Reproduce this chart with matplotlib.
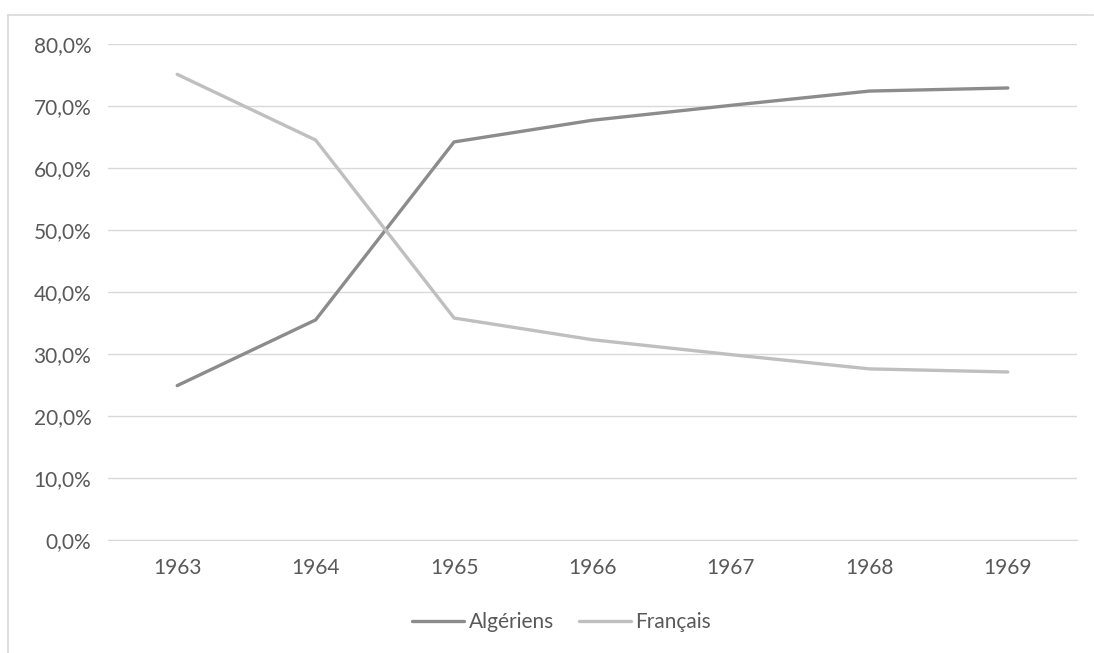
import matplotlib.pyplot as plt
from matplotlib.lines import Line2D
from matplotlib.ticker import FuncFormatter

plt.rcParams['font.family'] = ['Lato', 'DejaVu Sans']

years = ["1963", "1964", "1965", "1966", "1967", "1968", "1969"]
algeriens = [24.9, 35.5, 64.2, 67.7, 70.1, 72.4, 72.9]
francais = [75.1, 64.5, 35.8, 32.3, 29.9, 27.6, 27.1]

text_color = "#595959"

fig = plt.figure(figsize=(10.94, 6.53), dpi=100)
ax = fig.add_axes([0.0987, 0.173, 0.8858, 0.7597])

x = range(len(years))
ax.plot(x, algeriens, color="#8c8c8c", linewidth=2.4, label="Algériens", solid_capstyle="round")
ax.plot(x, francais, color="#bfbfbf", linewidth=2.4, label="Français", solid_capstyle="round")

ax.set_xlim(-0.5, len(years) - 0.5)
ax.set_ylim(0, 80)
ax.set_yticks(range(0, 81, 10))
ax.yaxis.set_major_formatter(FuncFormatter(lambda v, p: f"{v:.1f}%".replace(".", ",")))
ax.set_xticks(list(x))
ax.set_xticklabels(years)

ax.grid(axis="y", color="#d9d9d9", linewidth=1)
ax.set_axisbelow(True)
for s in ax.spines.values():
    s.set_visible(False)
ax.spines["bottom"].set_visible(True)
ax.spines["bottom"].set_color("#d9d9d9")
ax.tick_params(length=0, labelsize=15, colors=text_color)
ax.tick_params(axis="y", pad=12)
ax.tick_params(axis="x", pad=13)

ax.legend(loc="center", bbox_to_anchor=(0.468, -0.165), ncol=2, frameon=False,
          fontsize=15, labelcolor=text_color, handlelength=2.5, handletextpad=0.2,
          columnspacing=1.2)

# outer chart frame (top and left only visible)
fig.add_artist(Line2D([8 / 1094, 1093 / 1094], [1 - 15 / 653, 1 - 15 / 653],
                      color="#d9d9d9", linewidth=1.2, transform=fig.transFigure))
fig.add_artist(Line2D([8 / 1094, 8 / 1094], [0, 1 - 15 / 653],
                      color="#d9d9d9", linewidth=1.2, transform=fig.transFigure))

fig.savefig("out.png", dpi=100)
